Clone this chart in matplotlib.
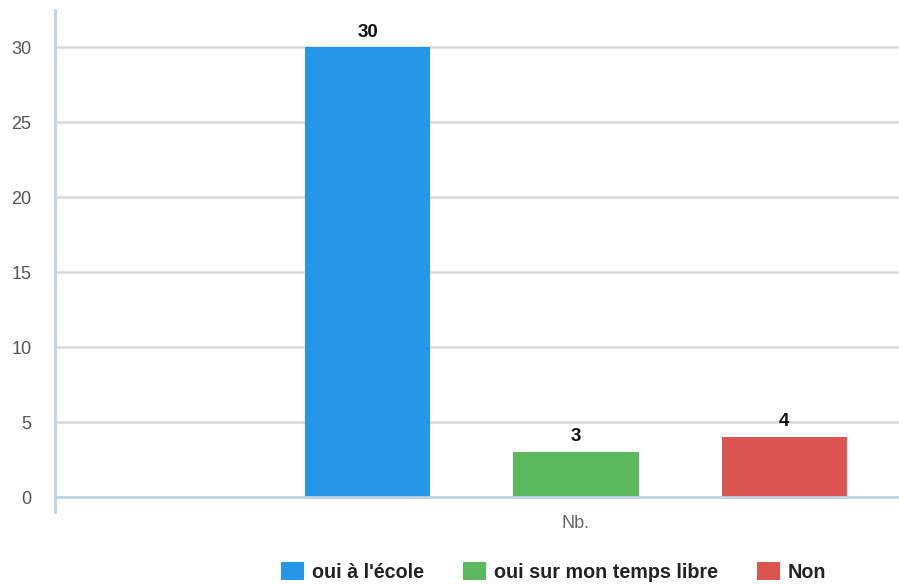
import matplotlib
matplotlib.use('Agg')
import matplotlib.pyplot as plt
from matplotlib.patches import Patch

plt.rcParams['font.family'] = ['Liberation Sans', 'DejaVu Sans']

# data
series = ['oui à l\'école', 'oui sur mon temps libre', 'Non']
values = [30, 3, 4]
colors = ['#2796e9', '#5cb85c', '#d9534f']
category = 'Nb.'
yticks = [0, 5, 10, 15, 20, 25, 30]

fig = plt.figure(figsize=(8.99, 5.85), dpi=100)
ax = fig.add_axes([55 / 899, 1 - 512 / 585, 1 - 55 / 899, (512 - 10) / 585])

offsets = [-1, 0, 1]
bars = ax.bar(offsets, values, width=0.6, color=colors, zorder=3)
for b, v in zip(bars, values):
    ax.annotate(str(v), (b.get_x() + b.get_width() / 2, v), xytext=(0, 5),
                textcoords='offset points', ha='center', va='bottom',
                fontsize=13.5, fontweight='bold', color='#111111')

ax.set_xlim(-2.5, 1.55)
ax.set_ylim(-1, 32.5)
ax.set_yticks(yticks)
ax.set_yticklabels([str(t) for t in yticks], fontsize=13, color='#555555')
ax.tick_params(axis='y', length=0, pad=17)
ax.set_xticks([0])
ax.set_xticklabels([category], fontsize=13, color='#666666')
ax.tick_params(axis='x', length=0, pad=2)

for t in yticks[1:]:
    ax.axhline(t, color='#d9d9d9', lw=1.8, zorder=1)
ax.axhline(0, color='#c0d0e2', lw=2, zorder=4)

for s in ['top', 'right', 'bottom']:
    ax.spines[s].set_visible(False)
ax.spines['left'].set_color('#c0d0e2')
ax.spines['left'].set_linewidth(2)

handles = [Patch(facecolor=c, edgecolor='none') for c in colors]
fig.legend(handles, series, loc='center', bbox_to_anchor=(554 / 899, 1 - 572 / 585),
           ncol=3, frameon=False, prop={'weight': 'bold', 'size': 14.2},
           handlelength=1.15, handleheight=1.05, handletextpad=0.4,
           columnspacing=2.0, labelcolor='#222222')

fig.savefig('out.png', dpi=100)
